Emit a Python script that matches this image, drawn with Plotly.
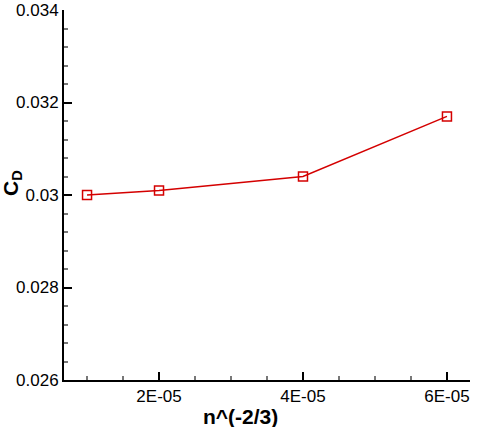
import plotly.graph_objects as go

# data
n_pow = [1e-05, 2e-05, 4e-05, 6e-05]
cd = [0.0300, 0.0301, 0.0304, 0.0317]

x_tickvals = [2e-05, 4e-05, 6e-05]
x_ticktext = ["2E-05", "4E-05", "6E-05"]
y_tickvals = [0.026, 0.028, 0.030, 0.032, 0.034]
y_ticktext = ["0.026", "0.028", "0.03", "0.032", "0.034"]

RED = "#d40000"
FONT = "Liberation Sans, Arial, sans-serif"

fig = go.Figure()

fig.add_trace(
    go.Scatter(
        x=n_pow,
        y=cd,
        mode="lines+markers",
        line=dict(color=RED, width=1.5),
        marker=dict(symbol="square-open", size=9, color=RED, line=dict(width=1.5)),
        cliponaxis=False,
    )
)

common = dict(
    ticks="inside",
    ticklen=8,
    tickwidth=1.5,
    tickcolor="black",
    showline=True,
    linecolor="black",
    linewidth=2,
    showgrid=False,
    zeroline=False,
    automargin=False,
    ticklabeloverflow="allow",
    tickfont=dict(family=FONT, size=17, color="black"),
)

fig.update_xaxes(
    range=[0.68e-05, 6.32e-05],
    tickvals=x_tickvals,
    ticktext=x_ticktext,
    minor=dict(ticks="inside", dtick=0.5e-05, tick0=0, ticklen=4, tickcolor="#777"),
    **common,
)
fig.update_yaxes(
    range=[0.026, 0.034],
    tickvals=y_tickvals,
    ticktext=y_ticktext,
    minor=dict(ticks="inside", dtick=0.0004, tick0=0.026, ticklen=4, tickcolor="#777"),
    **common,
)

# plot area: x 64..470, y 10..380 in the 480x427 window
L, T, R, B = 64, 10, 10, 47
W, H = 480, 427
plot_w = W - L - R
plot_h = H - T - B

# axis titles placed by hand to match the reference
fig.add_annotation(
    text="<b>n^(-2/3)</b>",
    x=(240 - L) / plot_w, xref="paper",
    y=-(H + 3 - 380) / plot_h, yref="paper",
    xanchor="center",
    yanchor="bottom",
    showarrow=False,
    font=dict(family=FONT, size=21, color="black"),
)
fig.add_annotation(
    text="<b>C<sub>D</sub></b>",
    x=(12 - L) / plot_w, xref="paper",
    y=(380 - 183) / plot_h, yref="paper",
    xanchor="center",
    yanchor="middle",
    textangle=-90,
    showarrow=False,
    font=dict(family=FONT, size=21, color="black"),
)

fig.update_layout(
    width=W,
    height=H,
    margin=dict(l=L, r=R, t=T, b=B, autoexpand=False),
    paper_bgcolor="white",
    plot_bgcolor="white",
    showlegend=False,
)

# drop the default 8px body margin so the figure sits at the window corner
fig.write_html(
    "out.html",
    config={"displayModeBar": False},
    post_script="document.body.style.margin = '0';",
)
